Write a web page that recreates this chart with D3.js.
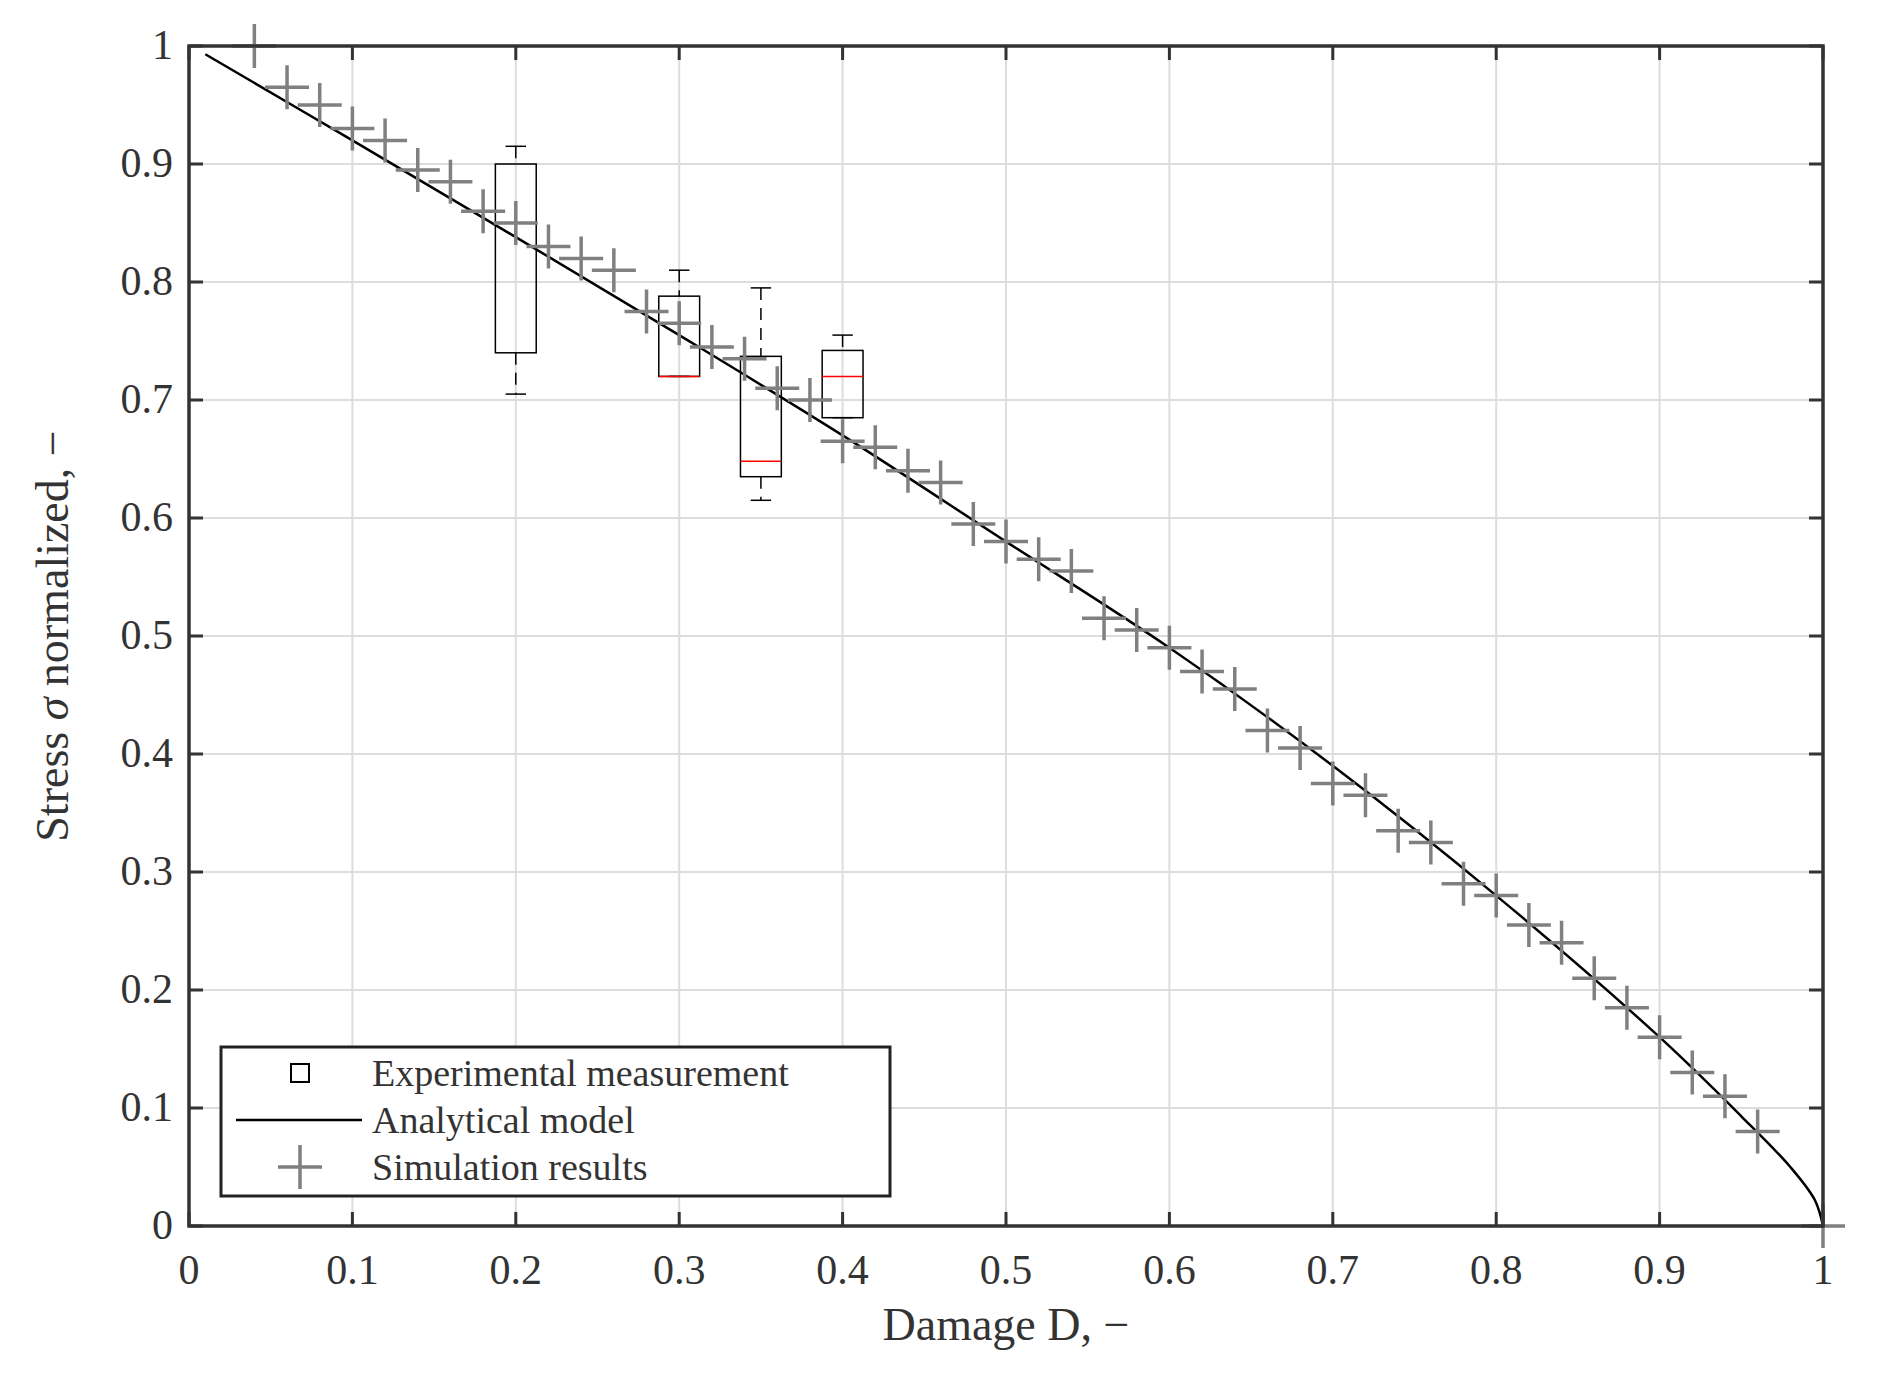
<!DOCTYPE html><html><head><meta charset="utf-8"><script src="https://cdn.jsdelivr.net/npm/d3@7"></script>
<style>body{margin:0;background:#fff}text{font-family:"Liberation Serif","DejaVu Serif",serif;fill:#333}</style></head><body>
<svg id="c" width="1890" height="1379"></svg>
<script>
const ticks=[0,0.1,0.2,0.3,0.4,0.5,0.6,0.7,0.8,0.9,1];
const tickLabels=["0","0.1","0.2","0.3","0.4","0.5","0.6","0.7","0.8","0.9","1"];
const simX=[0.04,0.06,0.08,0.10,0.12,0.14,0.16,0.18,0.20,0.22,0.24,0.26,0.28,0.30,0.32,0.34,0.36,0.38,0.40,0.42,0.44,0.46,0.48,0.50,0.52,0.54,0.56,0.58,0.60,0.62,0.64,0.66,0.68,0.70,0.72,0.74,0.76,0.78,0.80,0.82,0.84,0.86,0.88,0.90,0.92,0.94,0.96,1.0];
const simY=[1.0,0.965,0.95,0.93,0.92,0.895,0.885,0.86,0.85,0.83,0.82,0.81,0.775,0.765,0.745,0.735,0.71,0.70,0.665,0.66,0.64,0.63,0.595,0.58,0.565,0.555,0.515,0.505,0.49,0.47,0.455,0.42,0.405,0.375,0.365,0.335,0.325,0.29,0.28,0.255,0.24,0.21,0.185,0.16,0.13,0.11,0.08,0];
const modelX=[0.01,0.1,0.2,0.3,0.4,0.5,0.6,0.7,0.8,0.9,0.95,0.98,0.995,1];
const modelY=[0.993,0.92,0.838,0.755,0.67,0.58,0.49,0.39,0.28,0.16,0.093,0.05,0.022,0];
const boxX=[0.2,0.3,0.35,0.4];
const boxQ1=[0.74,0.72,0.635,0.685];
const boxQ3=[0.90,0.788,0.737,0.742];
const boxMed=[0.85,0.72,0.648,0.72];
const boxLo=[0.705,0.72,0.615,0.685];
const boxHi=[0.915,0.81,0.795,0.755];
const L=189,R=1823,T=46,B=1226;
const x=d3.scaleLinear().domain([0,1]).range([L,R]);
const y=d3.scaleLinear().domain([0,1]).range([B,T]);
const svg=d3.select("#c");
const g=svg.append("g");
ticks.forEach(t=>{
 g.append("line").attr("x1",x(t)).attr("x2",x(t)).attr("y1",T).attr("y2",B).attr("stroke","#ddd").attr("stroke-width",2);
 g.append("line").attr("y1",y(t)).attr("y2",y(t)).attr("x1",L).attr("x2",R).attr("stroke","#ddd").attr("stroke-width",2);
});
svg.append("path").datum(modelX.map((d,i)=>[d,modelY[i]])).attr("d",d3.line().x(d=>x(d[0])).y(d=>y(d[1])).curve(d3.curveCatmullRom)).attr("fill","none").attr("stroke","#000").attr("stroke-width",2.5);
const hw=0.0125;
boxX.forEach((bx,i)=>{
 svg.append("line").attr("x1",x(bx)).attr("x2",x(bx)).attr("y1",y(boxHi[i])).attr("y2",y(boxQ3[i])).attr("stroke","#000").attr("stroke-width",1.5).attr("stroke-dasharray","12,8");
 svg.append("line").attr("x1",x(bx)).attr("x2",x(bx)).attr("y1",y(boxQ1[i])).attr("y2",y(boxLo[i])).attr("stroke","#000").attr("stroke-width",1.5).attr("stroke-dasharray","12,8");
 [boxHi[i],boxLo[i]].forEach(v=>svg.append("line").attr("x1",x(bx-hw/2)).attr("x2",x(bx+hw/2)).attr("y1",y(v)).attr("y2",y(v)).attr("stroke","#000").attr("stroke-width",1.5));
 svg.append("rect").attr("x",x(bx-hw)).attr("width",x(bx+hw)-x(bx-hw)).attr("y",y(boxQ3[i])).attr("height",y(boxQ1[i])-y(boxQ3[i])).attr("fill","none").attr("stroke","#000").attr("stroke-width",1.5);
 svg.append("line").attr("x1",x(bx-hw)).attr("x2",x(bx+hw)).attr("y1",y(boxMed[i])).attr("y2",y(boxMed[i])).attr("stroke","#f00").attr("stroke-width",1.5);
});
const cs=22;
simX.forEach((sx,i)=>{
 const cx=x(sx),cy=y(simY[i]);
 svg.append("path").attr("d",`M${cx-cs},${cy}H${cx+cs}M${cx},${cy-cs}V${cy+cs}`).attr("stroke","#808080").attr("stroke-width",3.5);
});
svg.append("rect").attr("x",L).attr("y",T).attr("width",R-L).attr("height",B-T).attr("fill","none").attr("stroke","#333").attr("stroke-width",3.5);
ticks.forEach((t,i)=>{
 const tl=14;
 svg.append("path").attr("d",`M${x(t)},${B}v${-tl}M${x(t)},${T}v${tl}M${L},${y(t)}h${tl}M${R},${y(t)}h${-tl}`).attr("stroke","#333").attr("stroke-width",3);
 svg.append("text").attr("x",x(t)).attr("y",B+58).attr("text-anchor","middle").attr("font-size",42).text(tickLabels[i]);
 svg.append("text").attr("x",L-16).attr("y",y(t)+13).attr("text-anchor","end").attr("font-size",42).text(tickLabels[i]);
});
svg.append("text").attr("x",(L+R)/2).attr("y",1340).attr("text-anchor","middle").attr("font-size",46).text("Damage D, \u2212");
svg.append("text").attr("transform",`translate(68,${(T+B)/2}) rotate(-90)`).attr("text-anchor","middle").attr("font-size",46).html("Stress <tspan font-style='italic'>σ</tspan> normalized, \u2212");
const lg=svg.append("g");
lg.append("rect").attr("x",221).attr("y",1047).attr("width",669).attr("height",149).attr("fill","#fff").attr("stroke","#222").attr("stroke-width",3);
const ly=[1073,1120,1167];
lg.append("rect").attr("x",291).attr("y",ly[0]-9).attr("width",18).attr("height",18).attr("fill","none").attr("stroke","#000").attr("stroke-width",2);
lg.append("line").attr("x1",236).attr("x2",362).attr("y1",ly[1]).attr("y2",ly[1]).attr("stroke","#000").attr("stroke-width",2.5);
lg.append("path").attr("d",`M${300-cs},${ly[2]}H${300+cs}M300,${ly[2]-cs}V${ly[2]+cs}`).attr("stroke","#808080").attr("stroke-width",3.5);
["Experimental measurement","Analytical model","Simulation results"].forEach((t,i)=>lg.append("text").attr("x",372).attr("y",ly[i]+13).attr("font-size",38).text(t));
</script></body></html>
